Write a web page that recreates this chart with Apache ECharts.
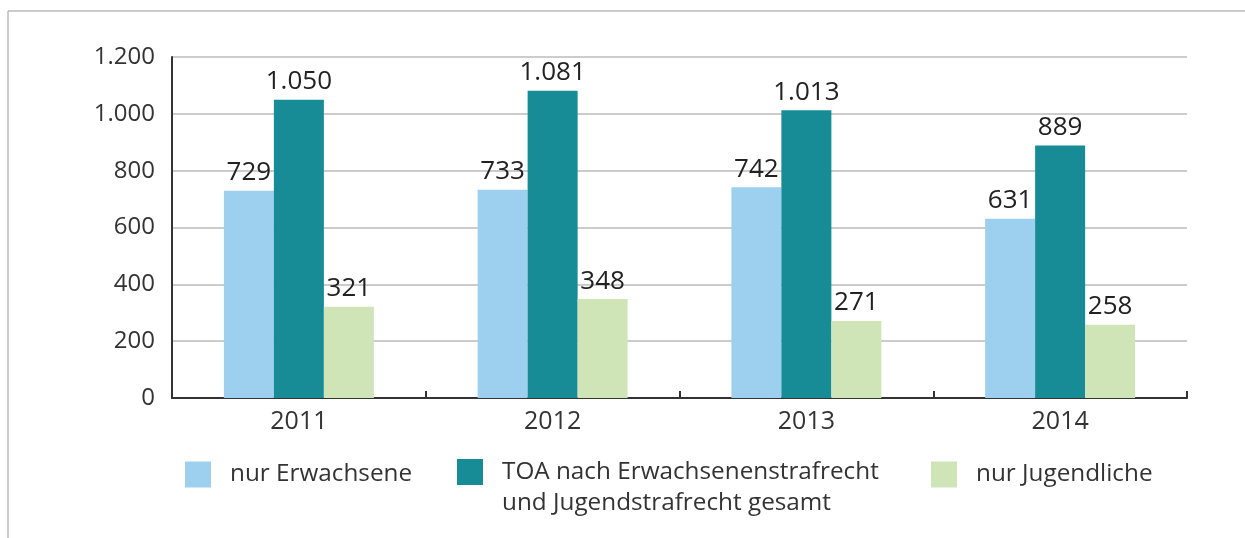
<!DOCTYPE html>
<html>
<head>
<meta charset="utf-8">
<script src="https://cdn.jsdelivr.net/npm/echarts@6/dist/echarts.min.js"></script>
<style>html,body{margin:0;padding:0;background:#fff}#c{width:1245px;height:538px}</style>
</head>
<body>
<div id="c"></div>
<script>
const categories = ['2011', '2012', '2013', '2014'];
const seriesNames = ['nur Erwachsene', 'TOA nach Erwachsenenstrafrecht\nund Jugendstrafrecht gesamt', 'nur Jugendliche'];
const erwachsene = [729, 733, 742, 631];
const gesamt = [1050, 1081, 1013, 889];
const jugendliche = [321, 348, 271, 258];
const yTicks = [0, 200, 400, 600, 800, 1000, 1200];

const colors = ['#9dd0ee', '#178b96', '#cfe5b8'];
const font = 'Open Sans';
const fmt = v => String(v).replace(/\B(?=(\d{3})+(?!\d))/g, '.');

const chart = echarts.init(document.getElementById('c'), null, {renderer: 'canvas'});
const mk = (name, data, i) => ({
  name, type: 'bar', data, barWidth: 50, barGap: '0%',
  itemStyle: {color: colors[i]},
  label: {show: true, position: 'top', distance: 5, formatter: p => fmt(p.value),
    fontFamily: font, fontSize: 26, color: '#222'}
});
const LH = 31;
const legendItem = (name, left) => {
  const multi = name.includes('\n');
  return {
    data: [name], left, top: multi ? 459 - (3 * LH / 2 - 13) : 459, padding: 0,
    itemWidth: 26, itemHeight: 26, itemGap: 0,
    icon: 'rect', selectedMode: false,
    formatter: n => (multi ? '\n' : '') + n,
    textStyle: {fontFamily: font, fontSize: 24.3, color: '#333', padding: [0, 0, 0, 14], lineHeight: LH}
  };
};
chart.setOption({
  animation: false,
  grid: {left: 172, right: 58, top: 57, bottom: 140},
  legend: [legendItem(seriesNames[0], 185), legendItem(seriesNames[1], 457), legendItem(seriesNames[2], 931)],
  xAxis: {
    type: 'category', data: categories,
    axisLine: {lineStyle: {color: '#333', width: 2}},
    axisTick: {show: true, inside: true, length: 7, lineStyle: {color: '#333', width: 2}},
    axisLabel: {fontFamily: font, fontSize: 25, color: '#333', margin: 11}
  },
  yAxis: {
    type: 'value', min: yTicks[0], max: yTicks[yTicks.length - 1], interval: 200,
    axisLine: {show: true, lineStyle: {color: '#333', width: 2}},
    axisTick: {show: false},
    axisLabel: {fontFamily: font, fontSize: 24, color: '#333', margin: 17, formatter: v => fmt(v)},
    splitLine: {lineStyle: {color: '#bbb', width: 1.5}}
  },
  graphic: [
    {type: 'line', shape: {x1: 8, y1: 11, x2: 1245, y2: 11}, style: {stroke: '#bbb', lineWidth: 1.5}},
    {type: 'line', shape: {x1: 8, y1: 11, x2: 8, y2: 538}, style: {stroke: '#bbb', lineWidth: 1.5}}
  ],
  series: [mk(seriesNames[0], erwachsene, 0), mk(seriesNames[1], gesamt, 1), mk(seriesNames[2], jugendliche, 2)]
});
</script>
</body>
</html>
